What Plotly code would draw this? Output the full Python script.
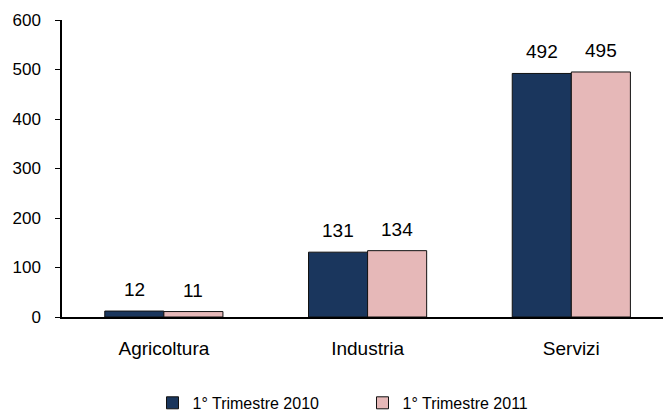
import plotly.graph_objects as go

categories = ["Agricoltura", "Industria", "Servizi"]
series_names = ["1° Trimestre 2010", "1° Trimestre 2011"]
values_2010 = [12, 131, 492]
values_2011 = [11, 134, 495]
y_ticks = [0, 100, 200, 300, 400, 500, 600]

colors = ["#1a365d", "#e6b8b8"]
FONT = "Liberation Sans, Arial, sans-serif"

fig = go.Figure()
for name, vals, col in zip(series_names, [values_2010, values_2011], colors):
    fig.add_trace(go.Bar(
        x=categories, y=vals, name=name,
        marker=dict(color=col, line=dict(color="#111111", width=1)),
        width=0.29,
    ))

# value labels above the bars
for vals, shift in zip([values_2010, values_2011], [-29.5, 29.5]):
    for c, v in zip(categories, vals):
        fig.add_annotation(x=c, y=v, text=str(v), showarrow=False,
                           xshift=shift, yshift=9, yanchor="bottom",
                           font=dict(family=FONT, size=19, color="#000000"))

fig.update_layout(
    width=665, height=412,
    margin=dict(l=62, r=2, t=20, b=95, autoexpand=False),
    paper_bgcolor="white", plot_bgcolor="white",
    barmode="group", bargap=0.42, bargroupgap=0,
    font=dict(family=FONT, size=18, color="#000000"),
    showlegend=True,
    legend=dict(orientation="h", x=0.5, xanchor="center", y=-0.232, yanchor="top",
                font=dict(family=FONT, size=16, color="#000000"),
                itemwidth=30, entrywidth=165, traceorder="normal"),
)
fig.update_xaxes(range=[-0.5, 2.45], showline=True, linecolor="#000000", linewidth=2,
                 ticks="", showgrid=False, tickfont=dict(size=19), zeroline=False,
                 ticklabelstandoff=13, automargin=False)
fig.update_yaxes(range=[0, 600], tickvals=y_ticks, showline=True, linecolor="#000000",
                 linewidth=1.5, ticks="outside", ticklen=5, tickcolor="#000000",
                 showgrid=False, zeroline=False, tickfont=dict(size=17), ticklabelstandoff=11,
                 automargin=False)

fig.write_html("out.html", config={"displayModeBar": False},
               post_script="document.body.style.margin='0';document.body.style.overflow='hidden';")
